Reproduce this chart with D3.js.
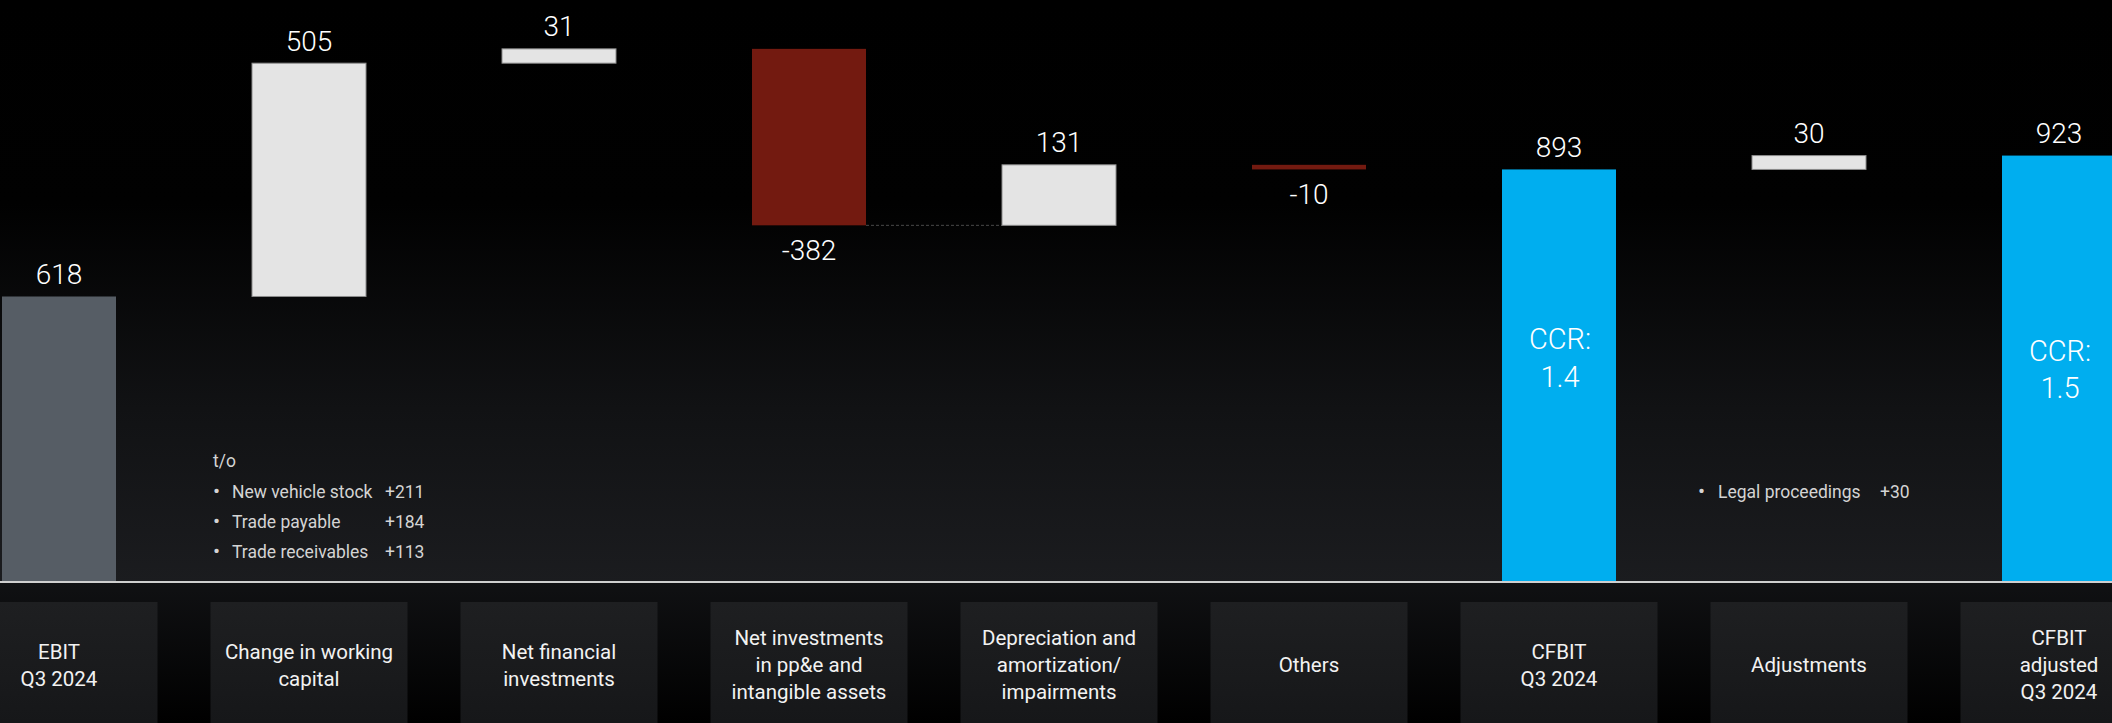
<!DOCTYPE html>
<html>
<head>
<meta charset="utf-8">
<script src="https://cdn.jsdelivr.net/npm/d3@7/dist/d3.min.js"></script>
<style>
  html, body { margin: 0; padding: 0; background: #000; }
  svg { display: block; }
</style>
</head>
<body>
<svg id="chart" width="2112" height="723"></svg>
<script>
// ---------- DATA ----------
const categories = [
  "EBIT Q3 2024",
  "Change in working capital",
  "Net financial investments",
  "Net investments in pp&e and intangible assets",
  "Depreciation and amortization/ impairments",
  "Others",
  "CFBIT Q3 2024",
  "Adjustments",
  "CFBIT adjusted Q3 2024"
];
const categoryLines = [
  ["EBIT", "Q3 2024"],
  ["Change in working", "capital"],
  ["Net financial", "investments"],
  ["Net investments", "in pp&e and", "intangible assets"],
  ["Depreciation and", "amortization/", "impairments"],
  ["Others"],
  ["CFBIT", "Q3 2024"],
  ["Adjustments"],
  ["CFBIT", "adjusted", "Q3 2024"]
];
const values = [618, 505, 31, -382, 131, -10, 893, 30, 923];
const kinds = ["start", "delta", "delta", "delta", "delta", "delta", "total", "delta", "total"];
const valueLabels = ["618", "505", "31", "-382", "131", "-10", "893", "30", "923"];
const ccrLabels = [
  { index: 6, lines: ["CCR:", "1.4"] },
  { index: 8, lines: ["CCR:", "1.5"] }
];
const wcNoteTitle = "t/o";
const wcNoteItems = ["New vehicle stock", "Trade payable", "Trade receivables"];
const wcNoteValues = ["+211", "+184", "+113"];
const adjNoteItems = ["Legal proceedings"];
const adjNoteValues = ["+30"];
const connectorPairs = [[3, 4]];

// ---------- LAYOUT ----------
const W = 2112, H = 723;
const axisY = 582;
const svg = d3.select("#chart");
const defs = svg.append("defs");

const bgGrad = defs.append("linearGradient").attr("id", "bgGrad")
  .attr("x1", 0).attr("y1", 0).attr("x2", 0).attr("y2", 1);
bgGrad.append("stop").attr("offset", "0%").attr("stop-color", "#000");
bgGrad.append("stop").attr("offset", "35%").attr("stop-color", "#010101");
bgGrad.append("stop").attr("offset", "70%").attr("stop-color", "#111214");
bgGrad.append("stop").attr("offset", "100%").attr("stop-color", "#1b1c1f");

const lowGrad = defs.append("linearGradient").attr("id", "lowGrad")
  .attr("x1", 0).attr("y1", 0).attr("x2", 0).attr("y2", 1);
lowGrad.append("stop").attr("offset", "0%").attr("stop-color", "#101113");
lowGrad.append("stop").attr("offset", "100%").attr("stop-color", "#000");

const boxGrad = defs.append("linearGradient").attr("id", "boxGrad")
  .attr("x1", 0).attr("y1", 0).attr("x2", 0).attr("y2", 1);
boxGrad.append("stop").attr("offset", "0%").attr("stop-color", "#1e1f21");
boxGrad.append("stop").attr("offset", "100%").attr("stop-color", "#161719");

svg.append("rect").attr("x", 0).attr("y", 0).attr("width", W).attr("height", axisY)
  .attr("fill", "url(#bgGrad)");
svg.append("rect").attr("x", 0).attr("y", axisY).attr("width", W).attr("height", H - axisY)
  .attr("fill", "url(#lowGrad)");

// scales
const x = d3.scaleBand().domain(categories).range([-134, 2252]).padding(0.544);
const y = d3.scaleLinear().domain([0, 1000]).range([axisY, 120]);

// compute waterfall
let running = 0;
const bars = categories.map((c, i) => {
  let from, to;
  if (kinds[i] === "delta") { from = running; to = running + values[i]; running = to; }
  else { from = 0; to = values[i]; running = values[i]; }
  return { cat: c, i, from, to, v: values[i], kind: kinds[i], label: valueLabels[i] };
});

function barColor(d) {
  if (d.kind === "start") return "#565d65";
  if (d.kind === "total") return "#00aeef";
  return d.v >= 0 ? "#e4e4e4" : "#731a10";
}

// category boxes
const boxW = 197;
svg.append("g").selectAll("rect").data(bars).join("rect")
  .attr("x", d => x(d.cat) + x.bandwidth() / 2 - boxW / 2)
  .attr("y", 602)
  .attr("width", boxW)
  .attr("height", H - 602)
  .attr("fill", "url(#boxGrad)");

// category labels
const lineH = 27;
const labG = svg.append("g");
bars.forEach(d => {
  const lines = categoryLines[d.i];
  const cx = x(d.cat) + x.bandwidth() / 2;
  const t = labG.append("text")
    .attr("x", cx)
    .attr("text-anchor", "middle")
    .attr("font-family", "Roboto, 'Liberation Sans', sans-serif")
    .attr("font-size", 20.5)
    .attr("fill", "#f2f2f2");
  lines.forEach((ln, k) => {
    t.append("tspan").attr("x", cx)
      .attr("y", 672 + (k - (lines.length - 1) / 2) * lineH)
      .text(ln);
  });
});

// connectors
svg.append("g").selectAll("line").data(connectorPairs).join("line")
  .attr("x1", p => x(categories[p[0]]) + x.bandwidth())
  .attr("x2", p => x(categories[p[1]]))
  .attr("y1", p => y(bars[p[0]].to))
  .attr("y2", p => y(bars[p[0]].to))
  .attr("stroke", "#4a4a4a")
  .attr("stroke-width", 1)
  .attr("stroke-dasharray", "3,2");

// bars
svg.append("g").selectAll("rect").data(bars).join("rect")
  .attr("x", d => x(d.cat))
  .attr("y", d => y(Math.max(d.from, d.to)))
  .attr("width", x.bandwidth())
  .attr("height", d => Math.abs(y(d.from) - y(d.to)))
  .attr("fill", barColor)
  .attr("stroke", d => (d.kind === "delta" && d.v >= 0) ? "#8c8c8c" : "none")
  .attr("stroke-width", 1);

// axis line
svg.append("line").attr("x1", 0).attr("x2", W).attr("y1", axisY).attr("y2", axisY)
  .attr("stroke", "#cfcfcf").attr("stroke-width", 2);

// value labels
svg.append("g").selectAll("text").data(bars).join("text")
  .attr("x", d => x(d.cat) + x.bandwidth() / 2)
  .attr("y", d => d.v >= 0 ? y(Math.max(d.from, d.to)) - 12.5 : y(Math.min(d.from, d.to)) + 34.5)
  .attr("text-anchor", "middle")
  .attr("font-family", "Roboto, 'Liberation Sans', sans-serif")
  .attr("font-weight", 300)
  .attr("font-size", 28)
  .attr("fill", "#ffffff")
  .text(d => d.label);

// CCR labels inside blue bars
const ccrY = { 6: [349, 387], 8: [361, 398] };
ccrLabels.forEach(c => {
  const cx = x(categories[c.index]) + x.bandwidth() / 2 + 1;
  c.lines.forEach((ln, k) => {
    svg.append("text")
      .attr("x", cx).attr("y", ccrY[c.index][k])
      .attr("text-anchor", "middle")
      .attr("font-family", "Roboto, 'Liberation Sans', sans-serif")
      .attr("font-weight", 300)
      .attr("font-size", 29)
      .attr("fill", "#ffffff")
      .text(ln);
  });
});

// notes
const noteFont = "Roboto, 'Liberation Sans', sans-serif";
const noteG = svg.append("g")
  .attr("font-family", noteFont).attr("font-size", 17.5).attr("fill", "#d4d4d4");
noteG.append("text").attr("x", 213).attr("y", 467).text(wcNoteTitle);
wcNoteItems.forEach((it, k) => {
  const yy = 498 + k * 30;
  noteG.append("text").attr("x", 213).attr("y", yy).attr("font-size", 21).text("•");
  noteG.append("text").attr("x", 232).attr("y", yy).text(it);
  noteG.append("text").attr("x", 385).attr("y", yy).text(wcNoteValues[k]);
});
adjNoteItems.forEach((it, k) => {
  const yy = 498 + k * 30;
  noteG.append("text").attr("x", 1698).attr("y", yy).attr("font-size", 21).text("•");
  noteG.append("text").attr("x", 1718).attr("y", yy).text(it);
  noteG.append("text").attr("x", 1880).attr("y", yy).text(adjNoteValues[k]);
});
</script>
</body>
</html>
